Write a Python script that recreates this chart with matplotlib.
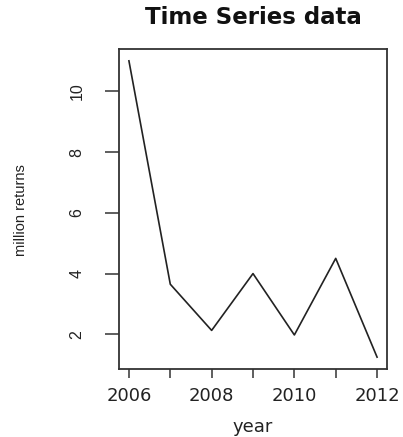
import matplotlib
matplotlib.use("Agg")
import matplotlib.pyplot as plt

years = [2006, 2007, 2008, 2009, 2010, 2011, 2012]
returns = [11.0, 3.65, 2.13, 4.0, 1.98, 4.5, 1.25]
x_ticks = [2006, 2008, 2010, 2012]
y_ticks = [2, 4, 6, 8, 10]

W, H = 403, 437
fig = plt.figure(figsize=(W / 100, H / 100), dpi=100)
ax = fig.add_axes([119 / W, 1 - 369 / H, (387 - 119) / W, (369 - 49) / H])

ax.plot(years, returns, color="#222222", linewidth=1.2)

# R-style 4% padding around data range
xr = max(years) - min(years)
yr = max(returns) - min(returns)
ax.set_xlim(min(years) - 0.04 * xr, max(years) + 0.04 * xr)
ax.set_ylim(min(returns) - 0.04 * yr, max(returns) + 0.04 * yr)

ax.set_xticks(years)
ax.set_xticklabels([str(y) if y in x_ticks else "" for y in years])
ax.set_yticks(y_ticks)
ax.set_yticklabels([str(v) for v in y_ticks], rotation=90, va="center")

for s in ax.spines.values():
    s.set_color("#333333")
    s.set_linewidth(1.3)
ax.tick_params(axis="both", width=1.1, color="#333333", labelcolor="#222222")
ax.tick_params(axis="x", length=6.5, pad=6.5, labelsize=13)
ax.tick_params(axis="y", length=10, pad=15, labelsize=11.5)
for lab in ax.get_xticklabels():
    lab.set_family("DejaVu Sans")
for lab in ax.get_yticklabels():
    lab.set_family("Liberation Sans")

fig.text(253 / W, 1 - 18 / H, "Time Series data", ha="center", va="center",
         fontsize=16.5, fontweight="bold", family="DejaVu Sans", color="#111111")
fig.text(253 / W, 1 - 427 / H, "year", ha="center", va="center",
         fontsize=13, family="DejaVu Sans", color="#222222")
fig.text(21 / W, 1 - 210 / H, "million returns", ha="center", va="center",
         rotation=90, fontsize=10.5, family="Liberation Sans", color="#222222")

fig.savefig("out.png", dpi=100)
